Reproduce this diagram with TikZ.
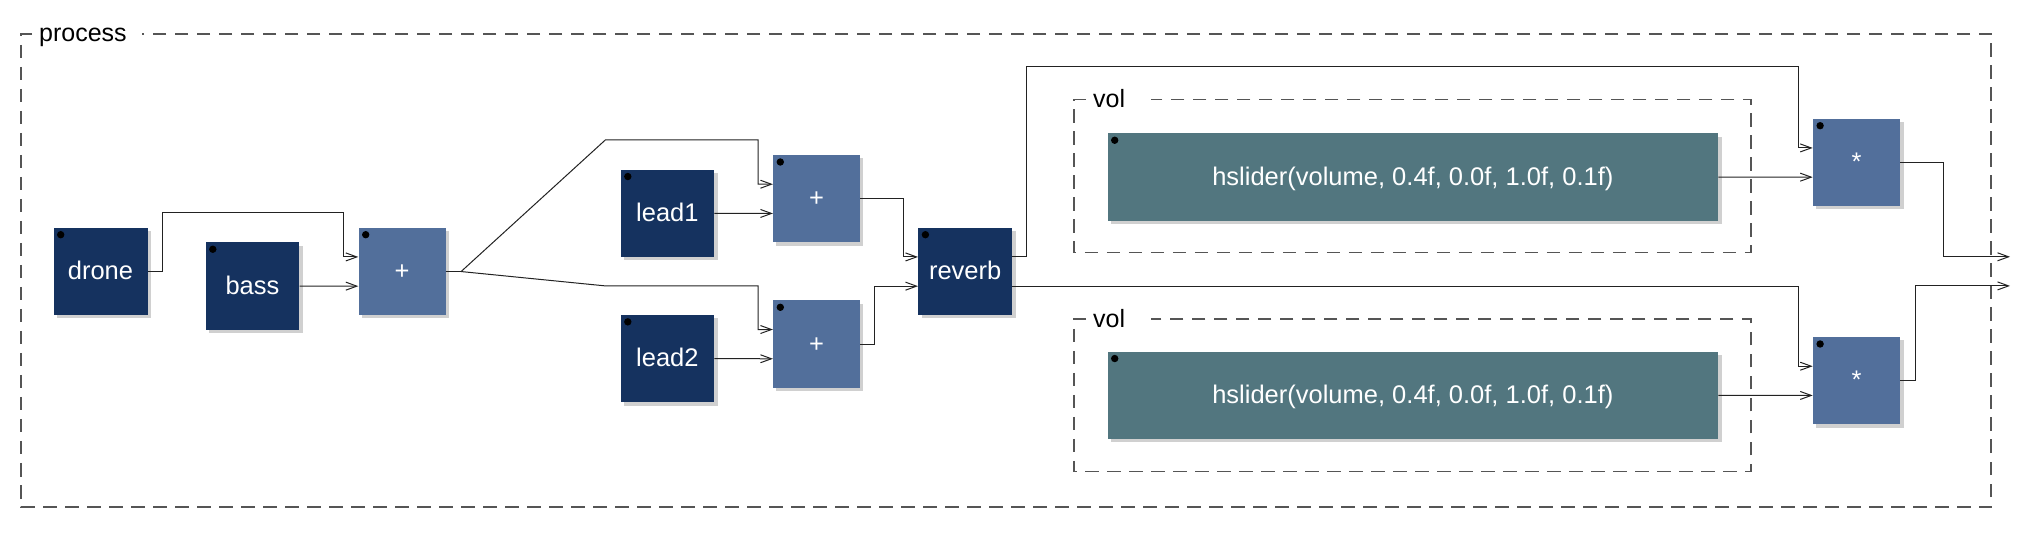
\documentclass[tikz,border=0pt]{standalone}
\usepackage{fontspec}
\setmainfont{Liberation Sans}
\usetikzlibrary{arrows.meta,calc,shadows}
\definecolor{navy}{HTML}{15325F}
\definecolor{opblue}{HTML}{526F9B}
\definecolor{uiteal}{HTML}{52767F}
\definecolor{shadowgray}{HTML}{D0D0D0}
\definecolor{framegray}{HTML}{555555}
\definecolor{wirecol}{HTML}{222222}
\begin{document}
\begin{tikzpicture}[x=1pt,y=-1pt,
  blk/.style={rectangle, inner sep=0pt, anchor=north west, minimum height=87.3pt,
    text=white, font=\fontsize{25.5}{30}\selectfont, text height=16pt, text depth=0pt,
    drop shadow={shadow xshift=3.3pt, shadow yshift=-3.3pt, fill=shadowgray, opacity=1}},
  prim/.style={blk, fill=navy},
  op/.style={blk, fill=opblue},
  ui/.style={blk, fill=uiteal},
  frame/.style={draw=framegray, line width=1.3pt, dash pattern=on 13.5pt off 8.5pt},
  lbl/.style={inner sep=0pt, anchor=base west, font=\fontsize{25}{30}\selectfont},
  wire/.style={draw=wirecol, line width=1pt},
  arr/.style={wire, -{Straight Barb[length=11pt,width=8pt]}}
]
\useasboundingbox (0,0) rectangle (2030,534);

% frames
\draw[frame] (32,34) -- (21,34) -- (21,507) -- (1991,507) -- (1991,34) -- (142,34);
\node[lbl] (proclbl) at (39,42) {process};
\draw[frame] (1086,99.5) -- (1074,99.5) -- (1074,252.7) -- (1751,252.7) -- (1751,99.5) -- (1151,99.5);
\node[lbl] (vollblA) at (1093,108) {vol};
\draw[frame] (1086,319) -- (1074,319) -- (1074,471.7) -- (1751,471.7) -- (1751,319) -- (1151,319);
\node[lbl] (vollblB) at (1093,327.5) {vol};

% boxes
\node[prim, minimum width=94pt] (drone) at (53.3,227.7) {drone};
\node[prim, minimum width=93.7pt] (bass) at (205.4,242.25) {bass};
\node[op, minimum width=87pt] (plusA) at (358.3,227.7) {+};
\node[prim, minimum width=93.6pt] (lead1) at (620.4,169.55) {lead1};
\node[prim, minimum width=93.6pt] (lead2) at (620.4,314.85) {lead2};
\node[op, minimum width=86.7pt] (plusB) at (772.9,155) {+};
\node[op, minimum width=86.7pt] (plusC) at (772.9,300.3) {+};
\node[prim, minimum width=94pt] (reverb) at (918,227.7) {reverb};
\node[ui, minimum width=610.7pt] (sliderA) at (1107.3,133.25) {hslider(volume, 0.4f, 0.0f, 1.0f, 0.1f)};
\node[ui, minimum width=610.7pt] (sliderB) at (1107.3,351.55) {hslider(volume, 0.4f, 0.0f, 1.0f, 0.1f)};
\node[op, minimum width=87.3pt] (multA) at (1812.7,118.7) {*};
\node[op, minimum width=87.3pt] (multB) at (1812.7,337) {*};

\foreach \n in {drone,bass,plusA,lead1,lead2,plusB,plusC,reverb,sliderA,sliderB,multA,multB}
  \fill ([xshift=7.4pt,yshift=-7pt]\n.north west) circle (3.7pt);

% ports
\foreach \n in {plusA,plusB,plusC,reverb,multA,multB}{
  \coordinate (\n i1) at ($(\n.north west)!1/3!(\n.south west)$);
  \coordinate (\n i2) at ($(\n.north west)!2/3!(\n.south west)$);
}
\coordinate (reverbo1) at ($(reverb.north east)!1/3!(reverb.south east)$);
\coordinate (reverbo2) at ($(reverb.north east)!2/3!(reverb.south east)$);
\coordinate (split) at ([xshift=15.4pt]plusA.east);
\coordinate (outA) at (2010,256.8);
\coordinate (outB) at (2010,285.9);

% wires
\draw[arr] (drone.east) -| (162.3,212.7) -- (343.3,212.7) |- (plusAi1);
\draw[arr] (bass.east) -- (plusAi2);
\draw[wire] (plusA.east) -- (split);
\draw[arr] (split) -- (605.3,140) -- (758,140) |- (plusBi1);
\draw[arr] (split) -- (605.3,285.9) -- (758,285.9) |- (plusCi1);
\draw[arr] (lead1.east) -- (plusBi2);
\draw[arr] (lead2.east) -- (plusCi2);
\draw[arr] (plusB.east) -| ([xshift=-14.4pt]reverbi1) -- (reverbi1);
\draw[arr] (plusC.east) -| ([xshift=-43.4pt]reverbi2) -- (reverbi2);
\draw[arr] (reverbo1) -| (1026.7,66.7) -| ([xshift=-14.4pt]multAi1) -- (multAi1);
\draw[arr] (reverbo2) -| ([xshift=-14.4pt]multBi1) -- (multBi1);
\draw[arr] (sliderA.east) -- (multAi2);
\draw[arr] (sliderB.east) -- (multBi2);
\draw[arr] (multA.east) -| (1943.7,256.8) -- (outA);
\draw[arr] (multB.east) -| (1915,285.9) -- (outB);
\end{tikzpicture}
\end{document}
